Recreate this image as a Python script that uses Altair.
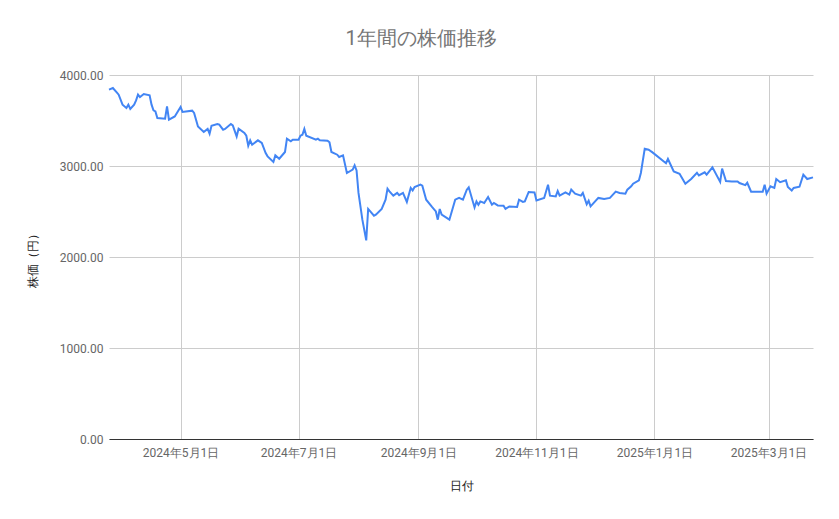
import altair as alt
import pandas as pd

dates = [
    "2024-03-25", "2024-03-27", "2024-03-29", "2024-03-30", "2024-04-01", "2024-04-03",
    "2024-04-04", "2024-04-05", "2024-04-07", "2024-04-08", "2024-04-09", "2024-04-10",
    "2024-04-12", "2024-04-15", "2024-04-16", "2024-04-17", "2024-04-18", "2024-04-19",
    "2024-04-23", "2024-04-24", "2024-04-25", "2024-04-28", "2024-05-01", "2024-05-02",
    "2024-05-07", "2024-05-08", "2024-05-10", "2024-05-13", "2024-05-15", "2024-05-16",
    "2024-05-17", "2024-05-20", "2024-05-21", "2024-05-23", "2024-05-24", "2024-05-27",
    "2024-05-28", "2024-05-30", "2024-05-31", "2024-06-03", "2024-06-04", "2024-06-05",
    "2024-06-06", "2024-06-07", "2024-06-10", "2024-06-12", "2024-06-14", "2024-06-15",
    "2024-06-18", "2024-06-19", "2024-06-21", "2024-06-24", "2024-06-25", "2024-06-27",
    "2024-06-28", "2024-07-01", "2024-07-02", "2024-07-03", "2024-07-04", "2024-07-05",
    "2024-07-10", "2024-07-11", "2024-07-12", "2024-07-16", "2024-07-17", "2024-07-18",
    "2024-07-21", "2024-07-22", "2024-07-24", "2024-07-26", "2024-07-29", "2024-07-30",
    "2024-07-31", "2024-08-01", "2024-08-03", "2024-08-05", "2024-08-06", "2024-08-09",
    "2024-08-10", "2024-08-13", "2024-08-15", "2024-08-16", "2024-08-17", "2024-08-19",
    "2024-08-21", "2024-08-22", "2024-08-24", "2024-08-26", "2024-08-28", "2024-08-29",
    "2024-08-30", "2024-09-02", "2024-09-03", "2024-09-05", "2024-09-08", "2024-09-10",
    "2024-09-11", "2024-09-12", "2024-09-13", "2024-09-17", "2024-09-20", "2024-09-22",
    "2024-09-24", "2024-09-26", "2024-09-27", "2024-09-30", "2024-10-01", "2024-10-02",
    "2024-10-03", "2024-10-05", "2024-10-07", "2024-10-09", "2024-10-10", "2024-10-12",
    "2024-10-15", "2024-10-16", "2024-10-18", "2024-10-22", "2024-10-23", "2024-10-25",
    "2024-10-26", "2024-10-28", "2024-10-31", "2024-11-01", "2024-11-05", "2024-11-07",
    "2024-11-08", "2024-11-11", "2024-11-12", "2024-11-13", "2024-11-16", "2024-11-18",
    "2024-11-19", "2024-11-21", "2024-11-24", "2024-11-25", "2024-11-27", "2024-11-28",
    "2024-11-29", "2024-12-03", "2024-12-06", "2024-12-09", "2024-12-12", "2024-12-14",
    "2024-12-17", "2024-12-18", "2024-12-20", "2024-12-21", "2024-12-24", "2024-12-25",
    "2024-12-27", "2024-12-29", "2024-12-31", "2025-01-07", "2025-01-08", "2025-01-11",
    "2025-01-14", "2025-01-17", "2025-01-20", "2025-01-23", "2025-01-24", "2025-01-27",
    "2025-01-28", "2025-01-31", "2025-02-04", "2025-02-05", "2025-02-07", "2025-02-10",
    "2025-02-13", "2025-02-14", "2025-02-17", "2025-02-18", "2025-02-20", "2025-02-26",
    "2025-02-27", "2025-02-28", "2025-03-02", "2025-03-04", "2025-03-05", "2025-03-07",
    "2025-03-10", "2025-03-11", "2025-03-13", "2025-03-14", "2025-03-17", "2025-03-19",
    "2025-03-21", "2025-03-24",
]

prices = [
    3840, 3857, 3809, 3784, 3674, 3638,
    3674, 3627, 3674, 3721, 3784, 3758,
    3791, 3776, 3674, 3611, 3600, 3528,
    3520, 3655, 3509, 3545, 3649, 3594,
    3608, 3583, 3435, 3374, 3407, 3355,
    3443, 3462, 3454, 3399, 3407, 3462,
    3446, 3325, 3410, 3363, 3333, 3223,
    3282, 3234, 3282, 3253, 3143, 3106,
    3044, 3117, 3080, 3154, 3300, 3271,
    3289, 3289, 3333, 3344, 3407, 3333,
    3289, 3300, 3282, 3278, 3260, 3154,
    3124, 3099, 3117, 2923, 2960, 3007,
    2952, 2704, 2410, 2183, 2528, 2454,
    2465, 2528, 2630, 2751, 2721, 2674,
    2704, 2680, 2704, 2605, 2759, 2732,
    2769, 2795, 2784, 2630, 2550, 2501,
    2410, 2528, 2465, 2410, 2630, 2649,
    2630, 2740, 2766, 2545, 2611, 2575,
    2611, 2594, 2660, 2575, 2594, 2567,
    2564, 2528, 2556, 2550, 2630, 2605,
    2611, 2715, 2710, 2622, 2649, 2795,
    2674, 2666, 2725, 2674, 2710, 2685,
    2740, 2696, 2674, 2704, 2580, 2619,
    2556, 2649, 2638, 2649, 2718, 2704,
    2696, 2740, 2776, 2806, 2842, 2923,
    3190, 3179, 3150, 3030, 3077, 2941,
    2914, 2804, 2857, 2926, 2896, 2930,
    2905, 2985, 2825, 2972, 2835, 2831,
    2831, 2813, 2790, 2816, 2718, 2718,
    2795, 2696, 2776, 2759, 2857, 2822,
    2842, 2770, 2730, 2759, 2772, 2905,
    2857, 2875,
]

y_ticks = [0, 1000, 2000, 3000, 4000]
x_ticks = [(2024, 5), (2024, 7), (2024, 9), (2024, 11), (2025, 1), (2025, 3)]
x_domain = [(2024, 3, 25), (2025, 3, 24)]

df = pd.DataFrame({"date": dates, "price": prices})

FONT = "Roboto"

chart = alt.Chart(df).mark_line(color="#4285F4", strokeWidth=2).encode(
    x=alt.X(
        "date:T",
        scale=alt.Scale(
            type="utc",
            domain=[alt.DateTime(year=y, month=m, date=d, utc=True) for (y, m, d) in x_domain],
        ),
        axis=alt.Axis(
            title="日付",
            values=[alt.DateTime(year=y, month=m, date=1, utc=True) for (y, m) in x_ticks],
            format="%Y年%-m月%-d日",
            labelFont=FONT, labelFontSize=12, labelColor="#666666",
            labelPadding=8, ticks=False,
            domainColor="#333333", domainWidth=1,
            grid=True, gridColor="#cccccc", gridWidth=1,
            titleFont=FONT, titleFontSize=12, titleFontWeight="normal",
            titleColor="#222222", titlePadding=22,
            labelOverlap=False,
        ),
    ),
    y=alt.Y(
        "price:Q",
        scale=alt.Scale(domain=[0, 4000], nice=False),
        axis=alt.Axis(
            title="株価（円）",
            values=y_ticks,
            format=".2f",
            labelFont=FONT, labelFontSize=12, labelColor="#666666",
            labelPadding=6, ticks=False, domain=False,
            grid=True, gridColor="#cccccc", gridWidth=1,
            titleFont=FONT, titleFontSize=12, titleFontWeight="normal",
            titleColor="#222222", titlePadding=20,
        ),
    ),
).properties(
    width=704,
    height=364,
    title=alt.TitleParams(
        "1年間の株価推移", font=FONT, fontSize=20, fontWeight="normal",
        color="#757575", anchor="middle", dx=-40, offset=20,
    ),
    autosize=alt.AutoSizeParams(type="none"),
    padding={"left": 101, "top": 67, "right": 18, "bottom": 68},
).configure_view(stroke=None)

chart.save("out.html", embed_options={"renderer": "svg", "actions": False})
